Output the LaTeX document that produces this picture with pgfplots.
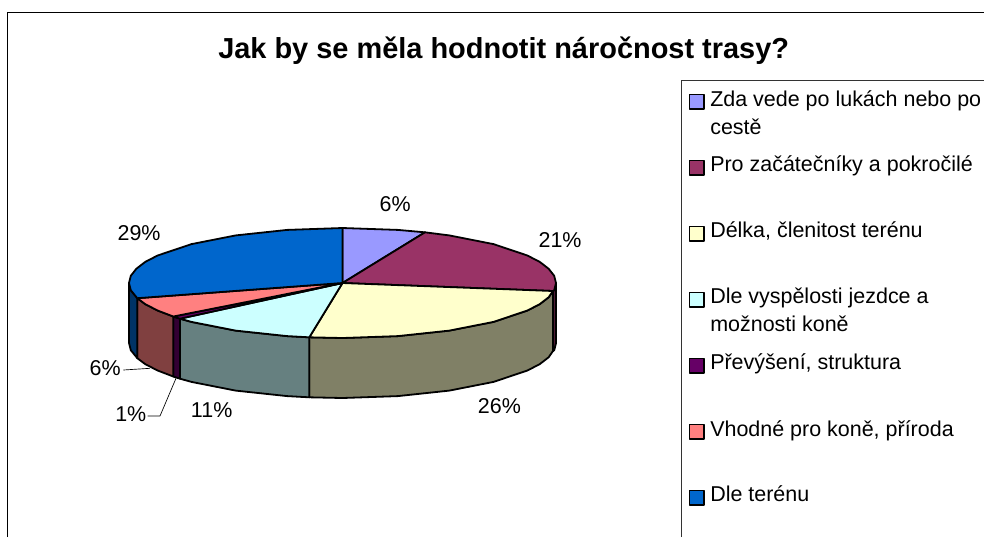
\documentclass[border=0pt]{standalone}
\usepackage{fontspec}
\setmainfont{Liberation Sans}
\usepackage{pgfplots}
\pgfplotsset{compat=1.18}
\definecolor{cA}{HTML}{9999FF}
\definecolor{cB}{HTML}{993366}
\definecolor{cC}{HTML}{FFFFCC}
\definecolor{cD}{HTML}{CCFFFF}
\definecolor{cE}{HTML}{660066}
\definecolor{cF}{HTML}{FF8080}
\definecolor{cG}{HTML}{0066CC}
\definecolor{wB}{HTML}{4D1A33}
\definecolor{wC}{HTML}{808066}
\definecolor{wD}{HTML}{668080}
\definecolor{wE}{HTML}{330033}
\definecolor{wF}{HTML}{804040}
\definecolor{wG}{HTML}{003366}
\tikzset{lbl/.style={anchor=base west,inner sep=0pt,font=\fontsize{16.1}{18}\selectfont}}
\begin{document}
\begin{tikzpicture}
\clip (0,0) rectangle (738pt,402.75pt);
\begin{axis}[
  at={(0,0)},anchor=south west,
  scale only axis,width=738pt,height=402.75pt,
  xmin=0,xmax=984,ymin=0,ymax=537,y dir=reverse,
  hide axis,enlargelimits=false,clip=false,no markers,
  every axis plot/.append style={line join=round,line width=1.35pt,draw=black,solid},
]
% chart and legend frame
\addplot[line width=1.1pt] coordinates {(7.5,537) (7.5,12.5) (984,12.5)};
\addplot[line width=0.9pt,draw=black!80] coordinates {(681.5,537) (681.5,80.5) (984,80.5)};
% side walls
\addplot[fill=wB] coordinates {(556,283)(554.2,290.2)(553,291)(553,351)(554.2,350.2)(556,343)} --cycle;
\addplot[fill=wC] coordinates {(553,291)(548.7,297.2)(539.8,304.1)(527.4,310.5)(493.5,321.9)(449.3,330.6)(397.8,336.1)(342.5,338)(309.3,337.3)
 (309.3,397.3)(342.5,398)(397.8,396.1)(449.3,390.6)(493.5,381.9)(527.4,370.5)(539.8,364.1)(548.7,357.2)(553,351)} --cycle;
\addplot[fill=wD] coordinates {(309.3,337.3)(287.2,336.1)(235.7,330.6)(191.5,321.9)(180,318.7)
 (180,378.7)(191.5,381.9)(235.7,390.6)(287.2,396.1)(309.3,397.3)} --cycle;
\addplot[fill=wE] coordinates {(180,318.7)(173.3,316.5)(173.3,376.5)(180,378.7)} --cycle;
\addplot[fill=wF] coordinates {(173.3,316.5)(157.6,310.5)(145.2,304.1)(137.3,298.2)
 (137.3,358.2)(145.2,364.1)(157.6,370.5)(173.3,376.5)} --cycle;
\addplot[fill=wG] coordinates {(137.3,298.2)(130.8,290.2)(129,283)(129,343)(130.8,350.2)(137.3,358.2)} --cycle;
% top faces
\addplot[fill=cA] coordinates {(342.5,283)(342.5,228)(397.8,229.9)(425,232.3)} --cycle;
\addplot[fill=cB] coordinates {(342.5,283)(425,232.3)(449.3,235.4)(493.5,244.1)(527.4,255.5)(539.8,261.9)(548.7,268.8)(554.2,275.8)(556,283)(554.2,290.2)(553,291)} --cycle;
\addplot[fill=cC] coordinates {(342.5,283)(553,291)(548.7,297.2)(539.8,304.1)(527.4,310.5)(493.5,321.9)(449.3,330.6)(397.8,336.1)(342.5,338)(309.3,337.3)} --cycle;
\addplot[fill=cD] coordinates {(342.5,283)(309.3,337.3)(287.2,336.1)(235.7,330.6)(191.5,321.9)(180,318.7)} --cycle;
\addplot[fill=cE] coordinates {(342.5,283)(180,318.7)(173.3,316.5)} --cycle;
\addplot[fill=cF] coordinates {(342.5,283)(173.3,316.5)(157.6,310.5)(145.2,304.1)(137.3,298.2)} --cycle;
\addplot[fill=cG] coordinates {(342.5,283)(137.3,298.2)(130.8,290.2)(129,283)(130.8,275.8)(136.3,268.8)(145.2,261.9)(157.6,255.5)(191.5,244.1)(235.7,235.4)(287.2,229.9)(342.5,228)} --cycle;
% leader lines
\addplot[line width=0.5pt] coordinates {(123.3,370)(150,368.3)};
\addplot[line width=0.5pt] coordinates {(147.7,416)(160,416)(176,378.3)};
% legend keys
\addplot[fill=cA] coordinates {(689.5,94.5)(704,94.5)(704,109)(689.5,109)} --cycle;
\addplot[fill=cB] coordinates {(689.5,160.5)(704,160.5)(704,175)(689.5,175)} --cycle;
\addplot[fill=cC] coordinates {(689.5,226.5)(704,226.5)(704,241)(689.5,241)} --cycle;
\addplot[fill=cD] coordinates {(689.5,292.5)(704,292.5)(704,307)(689.5,307)} --cycle;
\addplot[fill=cE] coordinates {(689.5,358.5)(704,358.5)(704,373)(689.5,373)} --cycle;
\addplot[fill=cF] coordinates {(689.5,424.5)(704,424.5)(704,439)(689.5,439)} --cycle;
\addplot[fill=cG] coordinates {(689.5,490.5)(704,490.5)(704,505)(689.5,505)} --cycle;
% title
\node[anchor=base west,inner sep=0pt,font=\fontsize{21.7}{24}\selectfont\bfseries] at (axis cs:218,58) {Jak by se měla hodnotit náročnost trasy?};
% data labels
\node[lbl] at (axis cs:379.3,211.7) {6\%};
\node[lbl] at (axis cs:538.3,247.7) {21\%};
\node[lbl] at (axis cs:477.7,413) {26\%};
\node[lbl] at (axis cs:190.7,417.7) {11\%};
\node[lbl] at (axis cs:115,421) {1\%};
\node[lbl] at (axis cs:89.3,375.7) {6\%};
\node[lbl] at (axis cs:117.3,240) {29\%};
% legend text
\node[lbl] at (axis cs:710,106.7) {Zda vede po lukách nebo po};
\node[lbl] at (axis cs:710,134) {cestě};
\node[lbl] at (axis cs:710,171.7) {Pro začátečníky a pokročilé};
\node[lbl] at (axis cs:710,237.7) {Délka, členitost terénu};
\node[lbl] at (axis cs:710,303.3) {Dle vyspělosti jezdce a};
\node[lbl] at (axis cs:710,331.7) {možnosti koně};
\node[lbl] at (axis cs:710,369.3) {Převýšení, struktura};
\node[lbl] at (axis cs:710,436) {Vhodné pro koně, příroda};
\node[lbl] at (axis cs:710,501.7) {Dle terénu};
\end{axis}
\end{tikzpicture}
\end{document}
